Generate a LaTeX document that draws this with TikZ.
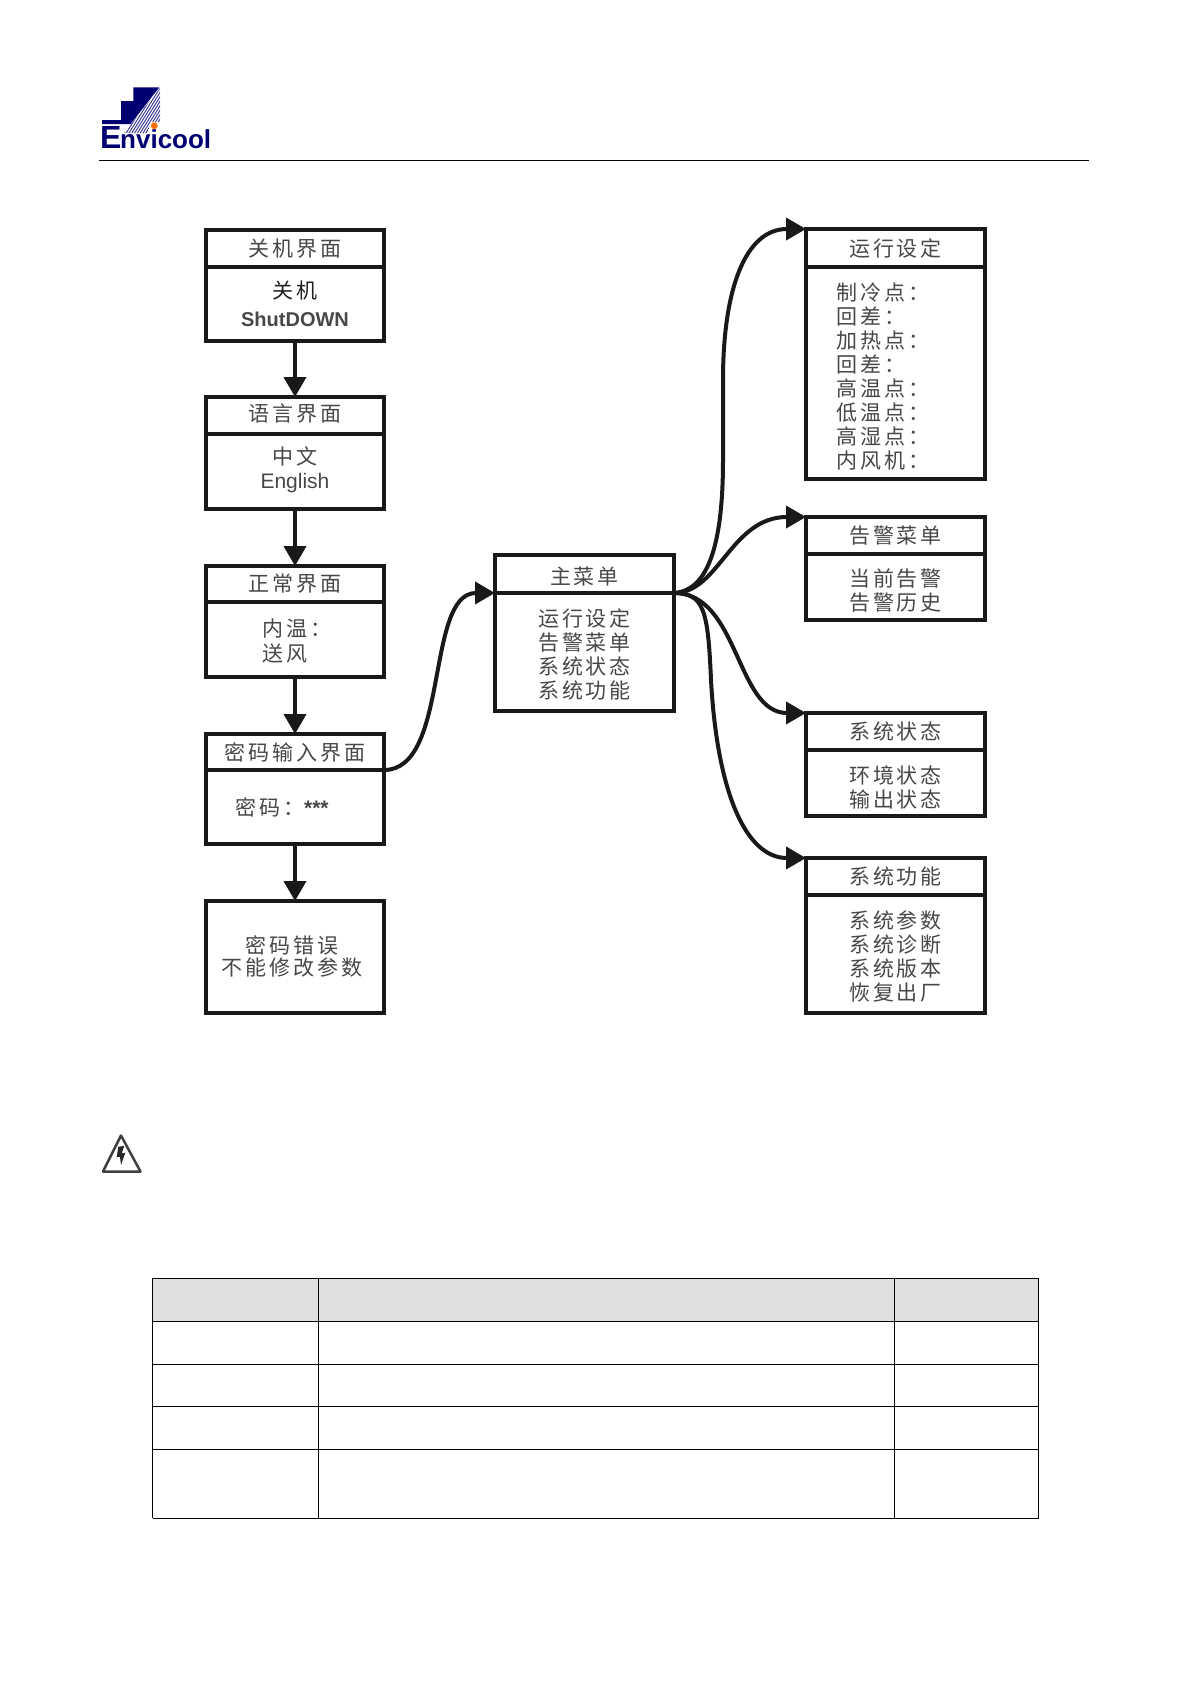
\documentclass[tikz,border=0pt]{standalone}
\usepackage{fontspec}
\newfontfamily\cjk[LetterSpace=14]{Noto Sans CJK SC}
\newfontfamily\lat{Liberation Sans}
\usetikzlibrary{arrows.meta,positioning}
% Taller first line, pushes a text block down inside its box
\newcommand{\lowr}[1]{\rule{0pt}{#1}}

\begin{document}
\begin{tikzpicture}[
    x=1pt, y=-1pt,
    % Style for the text inside the menu boxes
    txt/.style={inner sep=0pt, text=black!72, align=center, font=\fontsize{21}{24}\selectfont\cjk},
    % Style for the menu boxes (title part and body part share it)
    menu/.style={txt, draw=black!90, line width=3.5pt, minimum width=178pt, outer sep=0pt},
    % Style for the flow arrows
    flow/.style={-{Triangle[length=20pt, width=22pt]}, line width=4pt, draw=black!90}
]
\useasboundingbox (0,0) rectangle (1191,1684);

% ==========================
% Page head with logo
% ==========================
\fill[blue!45!black] (102,124) -- (102,120) -- (121,120) -- (121,101) -- (133.3,101)
    -- (133.3,87.3) -- (159.3,87.3) -- (130.7,124) -- cycle;
\begin{scope}
    \clip (160,88) -- (160,122) -- (150,122) -- (148,133) -- (124,133) -- cycle;
    \foreach \i in {0,2.8,...,60}
        \draw[blue!45!black!75, line width=1pt] (120+\i,134) -- (150+\i,86);
\end{scope}
\fill[orange!85!red] (154.3,125.7) circle (3.4);
\node[inner sep=0pt, anchor=base west, text=blue!45!black, font=\fontsize{32}{32}\selectfont\lat\bfseries] (logoe) at (100,148) {E};
\node[inner sep=0pt, anchor=base west, text=blue!45!black, font=\fontsize{26}{26}\selectfont\lat\bfseries] (logon) at (120,148) {nvicool};
\draw[line width=1pt] (99,160) -- (1089,160);

% ==========================
% Left column
% ==========================
\node[menu, minimum height=37pt] (offt) at (295,248.5) {关机界面};
\node[menu, minimum height=74pt, below=0pt of offt] (offb) {{\color{black!88}关机}\\[4pt]{\lat\bfseries\fontsize{20}{26}\selectfont ShutDOWN}};

\node[menu, minimum height=37pt, text depth=6.5pt] (langt) at (295,415.5) {语言界面};
\node[menu, minimum height=75pt, below=0pt of langt, text depth=8pt] (langb) {中文\\{\lat\fontsize{21}{26}\selectfont English}};

\node[menu, minimum height=36pt] (normt) at (295,584) {正常界面};
\node[menu, minimum height=75pt, below=0pt of normt] (normb) {};
\node[txt, anchor=west, align=left] (normx) at (262,641) {内温：\\[1pt]送风};

\node[menu, minimum height=36pt] (pwdt) at (295,752) {密码输入界面};
\node[menu, minimum height=74pt, below=0pt of pwdt] (pwdb) {};
\node[txt, anchor=west] (pwdx) at (235,807) {密码：{\lat\bfseries ***}};

\node[menu, minimum height=112pt] (errb) at (295,957) {};
\node[txt] (errx) at (292,956) {密码错误\\[-2pt]不能修改参数};

% Arrows going down the column
\draw[flow] (offb) -- (langt);
\draw[flow] (langb) -- (normt);
\draw[flow] (normb) -- (pwdt);
\draw[flow] (pwdb) -- (errb);

% ==========================
% Main menu
% ==========================
\node[menu, minimum width=179pt, minimum height=38pt] (maint) at (584.5,574) {\lowr{22pt}主菜单};
\node[menu, minimum width=179pt, minimum height=118pt, below=0pt of maint] (mainb) {\lowr{22pt}运行设定\\告警菜单\\系统状态\\系统功能};

\draw[flow] (pwdt.south east) .. controls +(66,0) and +(-70,0) .. (maint.south west);

% ==========================
% Right column
% ==========================
\node[menu, minimum width=179pt, minimum height=38pt] (runt) at (895.5,248) {运行设定};
\node[menu, minimum width=179pt, minimum height=212pt, below=0pt of runt] (runb) {};
\node[txt, anchor=west, align=left] (runx) at (836,377) {制冷点：\\回差：\\加热点：\\回差：\\高温点：\\低温点：\\高湿点：\\内风机：};

\node[menu, minimum width=179pt, minimum height=37pt] (almt) at (895.5,535.5) {告警菜单};
\node[menu, minimum width=179pt, minimum height=66pt, below=0pt of almt] (almb) {\lowr{25pt}当前告警\\告警历史};

\node[menu, minimum width=179pt, minimum height=37pt] (statt) at (895.5,731.5) {系统状态};
\node[menu, minimum width=179pt, minimum height=66pt, below=0pt of statt] (statb) {\lowr{27pt}环境状态\\输出状态};

\node[menu, minimum width=179pt, minimum height=37pt] (funct) at (895.5,876.5) {系统功能};
\node[menu, minimum width=179pt, minimum height=118pt, below=0pt of funct] (funcb) {\lowr{23pt}系统参数\\系统诊断\\系统版本\\恢复出厂};

% Curved arrows leaving the main menu
\draw[flow] (maint.south east) .. controls +(32,-2) and (723,550) .. (723,460)
    -- (723,380) .. controls (723,290) and (745,229) .. (runt.north west);
\draw[flow] (maint.south east) .. controls +(45,0) and +(-75,0) .. (almt.north west);
\draw[flow] (maint.south east) .. controls +(65,0) and +(-70,0) .. (statt.north west);
\draw[flow] (maint.south east) .. controls +(30,0) and (708,610) .. (711,680)
    .. controls (717,790) and (745,858) .. (funct.north west);

% ==========================
% Warning sign
% ==========================
\draw[black!75, line width=2.5pt, line join=round] (121,1135.5) -- (140.5,1171.5) -- (103,1171.5) -- cycle;
\fill[black!85] (118.3,1146.7) -- (124.3,1146) -- (121.7,1153.3) -- (125.3,1152.7) -- (121,1165)
    -- (120,1156.7) -- (116.7,1157.3) -- cycle;

% ==========================
% Empty table
% ==========================
\fill[black!12] (152.5,1278) rectangle (1038.5,1321);
\foreach \y in {1278,1321,1364,1406,1449,1518}
    \draw[line width=1pt] (152.5,\y) -- (1038.5,\y);
\foreach \x in {152.5,318,894,1038.5}
    \draw[line width=1pt] (\x,1278) -- (\x,1518);

\end{tikzpicture}
\end{document}
